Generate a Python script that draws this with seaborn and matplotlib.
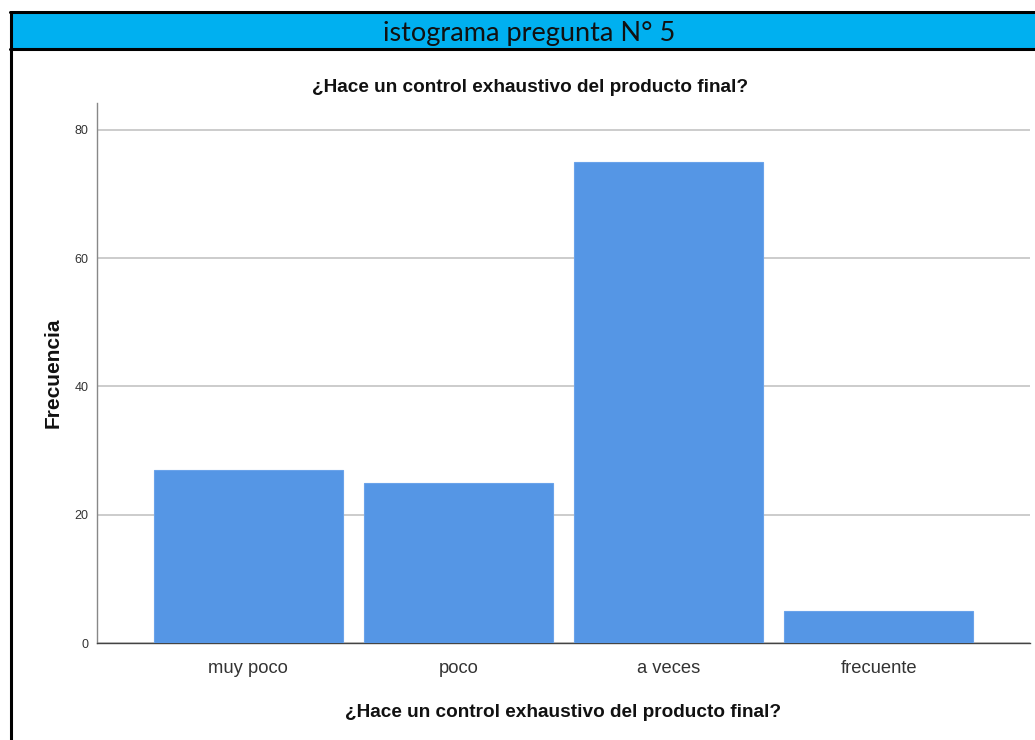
import matplotlib
matplotlib.use("Agg")
import matplotlib.pyplot as plt
import seaborn as sns
import pandas as pd
from matplotlib.patches import Rectangle
from matplotlib.lines import Line2D

categories = ["muy poco", "poco", "a veces", "frecuente"]
frecuencias = [27, 25, 75, 5]
yticks = [0, 20, 40, 60, 80]
header_text = "istograma pregunta N° 5"
title_text = "¿Hace un control exhaustivo del producto final?"
xlabel_text = "¿Hace un control exhaustivo del producto final?"
ylabel_text = "Frecuencia"

sns.set_theme(style="white")
plt.rcParams['font.family'] = ['Liberation Sans', 'DejaVu Sans']

W, H = 1035, 740
fig = plt.figure(figsize=(W / 100, H / 100), dpi=100)
fig.patch.set_facecolor("white")

ax = fig.add_axes([97 / W, 1 - 643 / H, (1030 - 97) / W, (643 - 103) / H])
df = pd.DataFrame({"cat": categories, "freq": frecuencias})
sns.barplot(data=df, x="cat", y="freq", color="#5596E5", saturation=1,
            width=0.9, ax=ax, edgecolor="#6aa3ea", linewidth=0.8, zorder=3)

ax.set_xlim(-0.72, 3.72)
ax.set_ylim(0, 84.2)
ax.set_yticks(yticks)
ax.set_yticklabels([str(v) for v in yticks], fontsize=9, color="#333333")
ax.set_xticks(range(len(categories)))
ax.set_xticklabels(categories, fontsize=13.2, color="#333333")
ax.tick_params(axis="both", length=0)
ax.tick_params(axis="y", pad=6)
ax.tick_params(axis="x", pad=12)
ax.yaxis.grid(True, color="#c8c8c8", linewidth=1.3, zorder=0)
ax.set_axisbelow(True)
for s in ["top", "right"]:
    ax.spines[s].set_visible(False)
ax.spines["left"].set_color("#888888")
ax.spines["left"].set_linewidth(1.0)
ax.spines["bottom"].set_color("#444444")
ax.spines["bottom"].set_linewidth(1.0)

ax.set_xlabel(xlabel_text, fontsize=13.7, fontweight="bold", color="#111111", labelpad=20)
ax.set_ylabel(ylabel_text, fontsize=15, fontweight="bold", color="#111111", labelpad=9)

fig.text(530 / W, 1 - 87 / H, title_text, ha="center", va="center",
         fontsize=13.7, fontweight="bold", color="#111111")

# header band
fig.patches.append(Rectangle((11 / W, 1 - 49 / H), 1.1, (49 - 12) / H,
                             transform=fig.transFigure, facecolor="#00B0F0",
                             edgecolor="none", zorder=1))
for y in [12, 49]:
    fig.lines.append(Line2D([10 / W, 1.0], [1 - y / H, 1 - y / H], transform=fig.transFigure,
                            color="black", linewidth=2.2, zorder=2))
fig.lines.append(Line2D([11 / W, 11 / W], [1 - 12 / H, 0], transform=fig.transFigure,
                        color="black", linewidth=2.2, zorder=2))
fig.text(529 / W, 1 - 33 / H, header_text, ha="center", va="center",
         fontsize=19.5, color="#111111", family=["Lato", "DejaVu Sans"])

fig.savefig("out.png", dpi=100)
